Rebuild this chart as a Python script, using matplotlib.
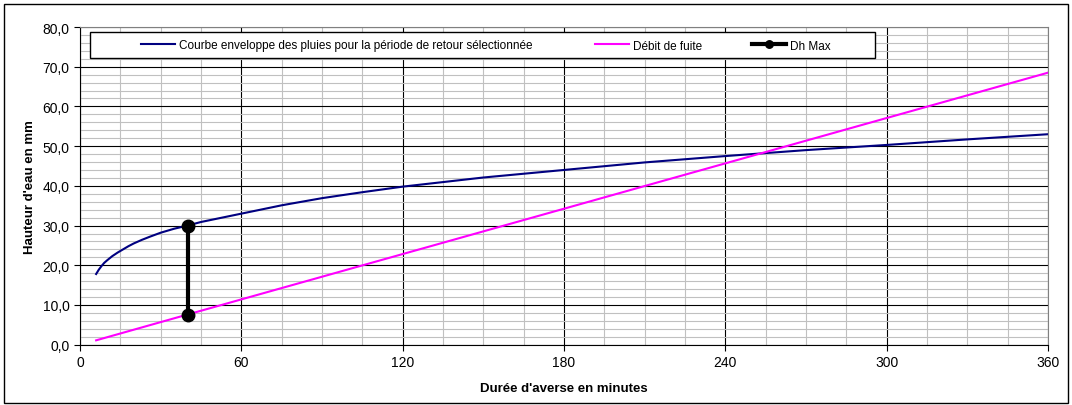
import matplotlib.pyplot as plt
from matplotlib.patches import Rectangle
from matplotlib.ticker import MultipleLocator, FuncFormatter

plt.rcParams["font.family"] = ["Liberation Sans", "DejaVu Sans"]

# Rain envelope curve (minutes, mm)
t_pluie = [6, 7, 8, 9, 10, 12, 14, 16, 18, 20, 23, 26, 30, 35, 40, 45, 50, 60, 75, 90,
           105, 120, 150, 180, 210, 240, 270, 300, 330, 360]
h_pluie = [17.8, 18.9, 19.8, 20.6, 21.2, 22.3, 23.2, 24.0, 24.8, 25.5, 26.4, 27.2, 28.2, 29.2,
           30.0, 30.9, 31.6, 33.0, 35.1, 36.9, 38.4, 39.8, 42.1, 44.0, 45.9, 47.5, 49.0,
           50.3, 51.7, 53.0]

# Leak flow line
t_fuite = [6, 40, 360]
h_fuite = [1.1, 7.6, 68.5]

# Max difference
t_dh = [40, 40]
h_dh = [7.6, 30.0]

W, H = 1072, 406
fig = plt.figure(figsize=(W / 100, H / 100), dpi=100)
ax = fig.add_axes([80 / W, 1 - 345.7 / H, 968 / W, (345.7 - 28) / H])

# outer frame
fig.patches.append(Rectangle((4 / W, 2 / H), 1064 / W, 399 / H,
                             transform=fig.transFigure, fill=False,
                             edgecolor="black", linewidth=1))

l1, = ax.plot(t_pluie, h_pluie, color="#000080", linewidth=1.5)
l2, = ax.plot(t_fuite, h_fuite, color="#FF00FF", linewidth=1.5)
l3, = ax.plot(t_dh, h_dh, color="black", linewidth=3, marker="o", markersize=9, zorder=5)

ax.set_xlim(0, 360)
ax.set_ylim(0, 80)
ax.xaxis.set_major_locator(MultipleLocator(60))
ax.xaxis.set_minor_locator(MultipleLocator(15))
ax.yaxis.set_major_locator(MultipleLocator(10))
ax.yaxis.set_minor_locator(MultipleLocator(2))
ax.yaxis.set_major_formatter(FuncFormatter(lambda v, p: f"{v:.1f}".replace(".", ",")))

ax.grid(True, which="minor", color="#c0c0c0", linewidth=0.8)
ax.grid(True, which="major", color="black", linewidth=0.8)
ax.set_axisbelow(True)
ax.tick_params(which="minor", length=0)
ax.tick_params(which="major", direction="out", length=4, labelsize=10)

for s in ["top", "right"]:
    ax.spines[s].set_color("#808080")

ax.set_xlabel("Durée d'averse en minutes", fontsize=9.5, fontweight="bold", labelpad=9)
ax.set_ylabel("Hauteur d'eau en mm", fontsize=9.5, fontweight="bold", labelpad=5)

# legend box drawn by hand, entries placed like the original
fig.patches.append(Rectangle((90 / W, 1 - 59 / H), 785 / W, 26 / H,
                             transform=fig.transFigure, facecolor="white",
                             edgecolor="black", linewidth=1, zorder=10))
entries = [
    (l1, "Courbe enveloppe des pluies pour la période de retour sélectionnée", 141),
    (l2, "Débit de fuite", 595),
    (l3, "Dh Max", 752),
]
for handle, text, xpx in entries:
    lg = fig.legend([handle], [text], loc="center left",
                    bbox_to_anchor=(xpx / W, 1 - 46.5 / H), bbox_transform=fig.transFigure,
                    frameon=False, fontsize=8.5, borderpad=0, borderaxespad=0,
                    handlelength=2.9, handletextpad=0.3, markerscale=0.6)
    lg.set_zorder(11)

fig.savefig("out.png", dpi=100)
